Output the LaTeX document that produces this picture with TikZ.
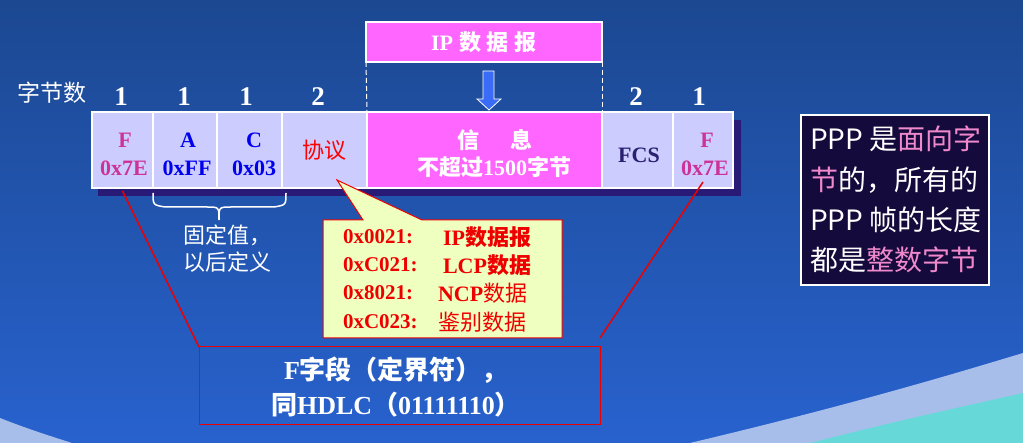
\documentclass[tikz,border=0pt]{standalone}
\usepackage{fontspec}
\setmainfont{Liberation Serif}
\newfontfamily\cjk{Noto Sans CJK SC}
\usetikzlibrary{calc}

\definecolor{bgtop}{HTML}{1C4891}
\definecolor{bgbot}{HTML}{2862CE}
\definecolor{bandlight}{HTML}{A8BEEA}
\definecolor{bandcyan}{HTML}{66D8D8}
\definecolor{cellfill}{HTML}{CCCCFF}
\definecolor{infofill}{HTML}{FF66FF}
\definecolor{shadowc}{HTML}{2A1A78}
\definecolor{flagc}{HTML}{CC3399}
\definecolor{addrc}{HTML}{0000EE}
\definecolor{fcsc}{HTML}{2A2070}
\definecolor{notefill}{HTML}{EEFFC0}
\definecolor{notered}{HTML}{EE0000}
\definecolor{darkbox}{HTML}{140A3C}
\definecolor{pinkc}{HTML}{F088CC}
\definecolor{arrowc}{HTML}{3A6CF8}

\newcommand\fsz[1]{\fontsize{#1}{#1}\selectfont}

\begin{document}
\begin{tikzpicture}[x=1pt,y=-1pt,
  every node/.style={inner sep=0pt, outer sep=0pt},
  cell/.style={draw=white, line width=1.2pt, fill=cellfill, anchor=north west, minimum height=76pt},
  celltext/.style={font=\bfseries\fsz{22}},
  bytecount/.style={text=white, font=\bfseries\fsz{27}},
  notecode/.style={text=notered, anchor=west, font=\bfseries\fsz{21}},
  notetext/.style={text=notered, anchor=west, font=\fsz{22}},
  sidetext/.style={text=white, anchor=west, font=\cjk\fsz{28}},
  redline/.style={draw=notered, line width=1.5pt}]

% background with the curved bands at the bottom
\useasboundingbox (0,0) rectangle (1023,443);
\shade[top color=bgtop, bottom color=bgbot] (0,0) rectangle (1023,443);
\fill[bandlight] (690,443) .. controls (850,405) and (950,375) .. (1023,353) -- (1023,443) -- cycle;
\fill[bandcyan] (810,443) .. controls (900,420) and (970,405) .. (1023,393) -- (1023,443) -- cycle;
\fill[bandlight] (0,418) .. controls (25,428) and (50,436) .. (72,443) -- (0,443) -- cycle;

% IP datagram on top
\node[fill=infofill, draw=white, line width=2pt, anchor=north west,
      minimum width=236pt, minimum height=40pt] (ipbox) at (366,22) {};
\node[text=white, font=\bfseries\fsz{22}] (iplabel) at (484,42) {IP\hspace{6pt}{\cjk 数\hspace{6pt}据\hspace{6pt}报}};

% frame shadow and fields
\fill[shadowc] (98,120) rectangle (741,196);
\node[cell, minimum width=61pt] (fl) at (92,112) {};
\node[cell, minimum width=64pt] (fa) at (153,112) {};
\node[cell, minimum width=65pt] (fc) at (217,112) {};
\node[cell, minimum width=85pt] (fp) at (282,112) {};
\node[cell, minimum width=235pt, fill=infofill] (fi) at (367,112) {};
\node[cell, minimum width=71pt] (ffcs) at (602,112) {};
\node[cell, minimum width=60pt] (fr) at (673,112) {};

% dashed guides from the datagram to the information field
\draw[white, line width=1pt, dash pattern=on 5pt off 3pt] (ipbox.south west) -- (fi.north west);
\draw[white, line width=1pt, dash pattern=on 5pt off 3pt] (ipbox.south east) -- (fi.north east);

% down arrow
\draw[fill=arrowc, draw=white, line width=0.8pt]
  (483,71) -- (494,71) -- (494,99) -- (501,99) -- (489,110) -- (477,99) -- (483,99) -- cycle;

% byte counts
\node[text=white, font=\cjk\fsz{23}] (bclabel) at (52,93) {字节数};
\node[bytecount] (n1) at (121,97) {1};
\node[bytecount] (n2) at (184,97) {1};
\node[bytecount] (n3) at (246,97) {1};
\node[bytecount] (n4) at (318,97) {2};
\node[bytecount] (n5) at (636,97) {2};
\node[bytecount] (n6) at (699,97) {1};

% field contents
\node[celltext, text=flagc] (flt1) at (125,140) {F};
\node[celltext, text=flagc] (flt2) at (124,168) {0x7E};
\node[celltext, text=addrc] (fat1) at (188,140) {A};
\node[celltext, text=addrc] (fat2) at (187,168) {0xFF};
\node[celltext, text=addrc] (fct1) at (254,140) {C};
\node[celltext, text=addrc] (fct2) at (254,168) {0x03};
\node[text=red, font=\cjk\fsz{22}] (fpt) at (324,150) {协议};
\node[text=white, font=\cjk\bfseries\fsz{22}] (fit1) at (495,140) {信\hspace{32pt}息};
\node[text=white, font=\bfseries\fsz{22}] (fit2) at (494,167) {{\cjk 不超过}1500{\cjk 字节}};
\node[celltext, text=fcsc] (ffcst) at (639,155) {FCS};
\node[celltext, text=flagc] (frt1) at (707,140) {F};
\node[celltext, text=flagc] (frt2) at (705,168) {0x7E};

% brace under A and C
\draw[white, line width=1.5pt]
  (153,193) .. controls (153,205) .. (165,207) -- (207,207)
  .. controls (219,207) .. (219,220) .. controls (219,207) .. (231,207)
  -- (274,207) .. controls (286,205) .. (286,193);
\node[text=white, anchor=west, font=\cjk\fsz{22}] (fix1) at (183,235) {固定值，};
\node[text=white, anchor=west, font=\cjk\fsz{22}] (fix2) at (183,262) {以后定义};

% flag explanation box
\node[draw=notered, line width=1pt, anchor=north west,
      minimum width=401pt, minimum height=78pt] (fbox) at (199,347) {};
\node[text=white, font=\bfseries\fsz{26}] (fbt1) at (396,370) {F{\cjk 字段（定界符），}};
\node[text=white, font=\bfseries\fsz{26}] (fbt2) at (396,405) {{\cjk 同}HDLC{\cjk （}01111110{\cjk ）}};
\draw[redline] ([yshift=-3pt]fl.south) -- (fbox.north west);
\draw[redline] ([yshift=6pt]fr.south) -- ([yshift=9pt]fbox.north east);

% protocol callout
\coordinate (tip) at (337,180);
\draw[fill=notefill, draw=notered, line width=1pt]
  (323,220) -- (363,220) -- (tip) -- (422,220) -- (562,220) -- (562,338) -- (323,338) -- cycle;
\node[notecode] (c1) at (343,237) {0x0021:};
\node[notecode] (c2) at (343,265) {0xC021:};
\node[notecode] (c3) at (343,293) {0x8021:};
\node[notecode] (c4) at (343,322) {0xC023:};
\node[notecode, font=\bfseries\fsz{22}] (d1) at (443,237) {IP{\cjk 数据报}};
\node[notecode, font=\bfseries\fsz{22}] (d2) at (443,265) {LCP{\cjk 数据}};
\node[notetext] (d3) at (438,293) {\textbf{NCP}{\cjk 数据}};
\node[notetext] (d4) at (438,322) {{\cjk 鉴别数据}};

% side note
\node[fill=darkbox, draw=white, line width=1.2pt, anchor=north west,
      minimum width=188pt, minimum height=170pt] (ppp) at (801,115) {};
\node[sidetext] (s1) at (810,139) {PPP 是{\color{pinkc}面向字}};
\node[sidetext] (s2) at (810,180) {{\color{pinkc}节}的，所有的};
\node[sidetext] (s3) at (810,220) {PPP 帧的长度};
\node[sidetext] (s4) at (810,260) {都是{\color{pinkc}整数字节}};
\end{tikzpicture}
\end{document}
